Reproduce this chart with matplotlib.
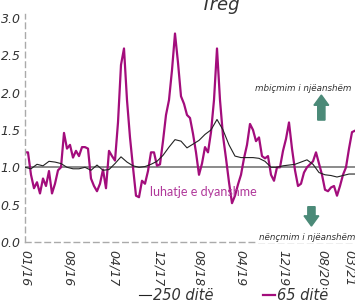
import numpy as np
import matplotlib
matplotlib.use("Agg")
import matplotlib.pyplot as plt
from matplotlib.patches import FancyArrow

plt.rcParams['font.family'] = ['Liberation Sans Narrow', 'DejaVu Sans']

# ── Data ─────────────────────────────────────────────────────────────────────
# 65-day ratio, one value per observation step
vol_65 = [1.20, 1.20, 0.90, 0.72, 0.80, 0.65, 0.85, 0.75, 0.95, 0.65,
          0.78, 0.96, 1.00, 1.46, 1.25, 1.30, 1.13, 1.22, 1.15, 1.27,
          1.27, 1.25, 0.85, 0.75, 0.68, 0.78, 0.97, 0.72, 1.22, 1.15,
          1.09, 1.60, 2.37, 2.59, 1.90, 1.40, 1.00, 0.62, 0.60, 0.82,
          0.78, 0.95, 1.20, 1.20, 1.02, 1.04, 1.35, 1.70, 1.90, 2.30,
          2.79, 2.40, 1.95, 1.85, 1.70, 1.66, 1.45, 1.20, 0.90, 1.05,
          1.27, 1.20, 1.47, 1.90, 2.59, 1.90, 1.42, 1.12, 0.80, 0.52,
          0.62, 0.77, 0.90, 1.12, 1.30, 1.58, 1.50, 1.35, 1.40, 1.15,
          1.12, 1.15, 0.90, 0.82, 1.00, 1.00, 1.22, 1.38, 1.60, 1.25,
          0.96, 0.75, 0.78, 0.93, 1.00, 1.04, 1.08, 1.20, 1.05, 0.90,
          0.70, 0.68, 0.73, 0.75, 0.62, 0.75, 0.90, 1.00, 1.25, 1.47,
          1.49]

# 250-day ratio, one value every second observation step
vol_250 = [1.00, 0.98, 1.04, 1.02, 1.08, 1.07, 1.05, 1.00, 0.98, 0.98,
           1.00, 0.96, 1.03, 0.96, 0.97, 1.05, 1.14, 1.07, 1.02, 1.00,
           1.01, 1.04, 1.08, 1.16, 1.27, 1.37, 1.35, 1.26, 1.31, 1.36,
           1.44, 1.50, 1.64, 1.50, 1.30, 1.15, 1.13, 1.13, 1.13, 1.12,
           1.08, 1.00, 1.00, 1.02, 1.03, 1.04, 1.07, 1.10, 1.04, 0.93,
           0.90, 0.89, 0.87, 0.89, 0.91, 0.91]

tick_labels = ["01/16", "08/16", "04/17", "12/17", "08/18",
               "04/19", "12/19", "08/20", "03/21"]
tick_pos = [0, 14.3, 29.3, 44.3, 57.7, 71.7, 86, 99, 108]

x65 = np.arange(len(vol_65))
x250 = np.arange(len(vol_250)) * 2

MAGENTA = "#a30d7c"
TEXT = "#333333"

# ── Figure ───────────────────────────────────────────────────────────────────
fig = plt.figure(figsize=(3.55, 3.06), dpi=100, facecolor="white")
ax = fig.add_axes([0.0704, 0.209, 0.9296, 0.745])

ax.axhline(1.0, color="#777777", lw=1.2, zorder=1)
ax.plot(x65, vol_65, color=MAGENTA, lw=1.6, zorder=2, label="65 ditë")
ax.plot(x250, vol_250, color="#222222", lw=0.8, zorder=3, label="250 ditë")

ax.set_xlim(0, len(vol_65) - 1)
ax.set_ylim(0, 3.05)
ax.set_yticks([0, 0.5, 1.0, 1.5, 2.0, 2.5, 3.0])
ax.set_yticklabels(["0.0", "0.5", "1.0", "1.5", "2.0", "2.5", "3.0"],
                   style="italic", fontsize=9, color=TEXT)
ax.set_xticks(tick_pos)
ax.set_xticklabels(tick_labels, rotation=270, style="italic",
                   fontsize=9, color=TEXT)
ax.tick_params(length=0, pad=3)
ax.tick_params(axis="x", pad=6)

for s in ["top", "right"]:
    ax.spines[s].set_visible(False)
for s in ["left", "bottom"]:
    ax.spines[s].set_linestyle((0, (4, 3)))
    ax.spines[s].set_color("#aaaaaa")
    ax.spines[s].set_linewidth(1.0)

# ── Annotations ──────────────────────────────────────────────────────────────
ax.text(0.99, 0.675, "mbiçmim i njëanshëm", transform=ax.transAxes,
        ha="right", va="center", style="italic", fontsize=6.3, color=TEXT)
ax.text(1.0, 0.02, "nënçmim i njëanshëm", transform=ax.transAxes,
        ha="right", va="center", style="italic", fontsize=6.3, color=TEXT,
        bbox=dict(fc="white", ec="none", pad=0.5), zorder=5)
ax.text(0.379, 0.22, "luhatje e dyanshme", transform=ax.transAxes,
        ha="left", va="center", fontsize=9, color="#b0389a",
        family=["Lato", "DejaVu Sans"], zorder=4)

green = "#4b8a78"
ax.add_patch(FancyArrow(0.898, 0.535, 0, 0.11, width=0.022,
                        head_width=0.045, head_length=0.045,
                        length_includes_head=True, color=green,
                        transform=ax.transAxes, zorder=4))
ax.add_patch(FancyArrow(0.868, 0.155, 0, -0.085, width=0.022,
                        head_width=0.045, head_length=0.045,
                        length_includes_head=True, color=green,
                        transform=ax.transAxes, zorder=4))

fig.text(0.62, 1 - 10 / 306, "Treg", ha="center", va="baseline",
         style="italic", fontsize=13, color=TEXT)

# ── Legend ───────────────────────────────────────────────────────────────────
handles, labels = ax.get_legend_handles_labels()
fig.legend(handles[::-1], labels[::-1], loc="center",
           bbox_to_anchor=(0.658, 0.035), ncol=2, frameon=False,
           handlelength=0.8, handletextpad=0.15, columnspacing=3.4,
           prop=dict(style="italic", size=10.5), labelcolor=TEXT)

fig.savefig("out.png", dpi=100, facecolor="white")
